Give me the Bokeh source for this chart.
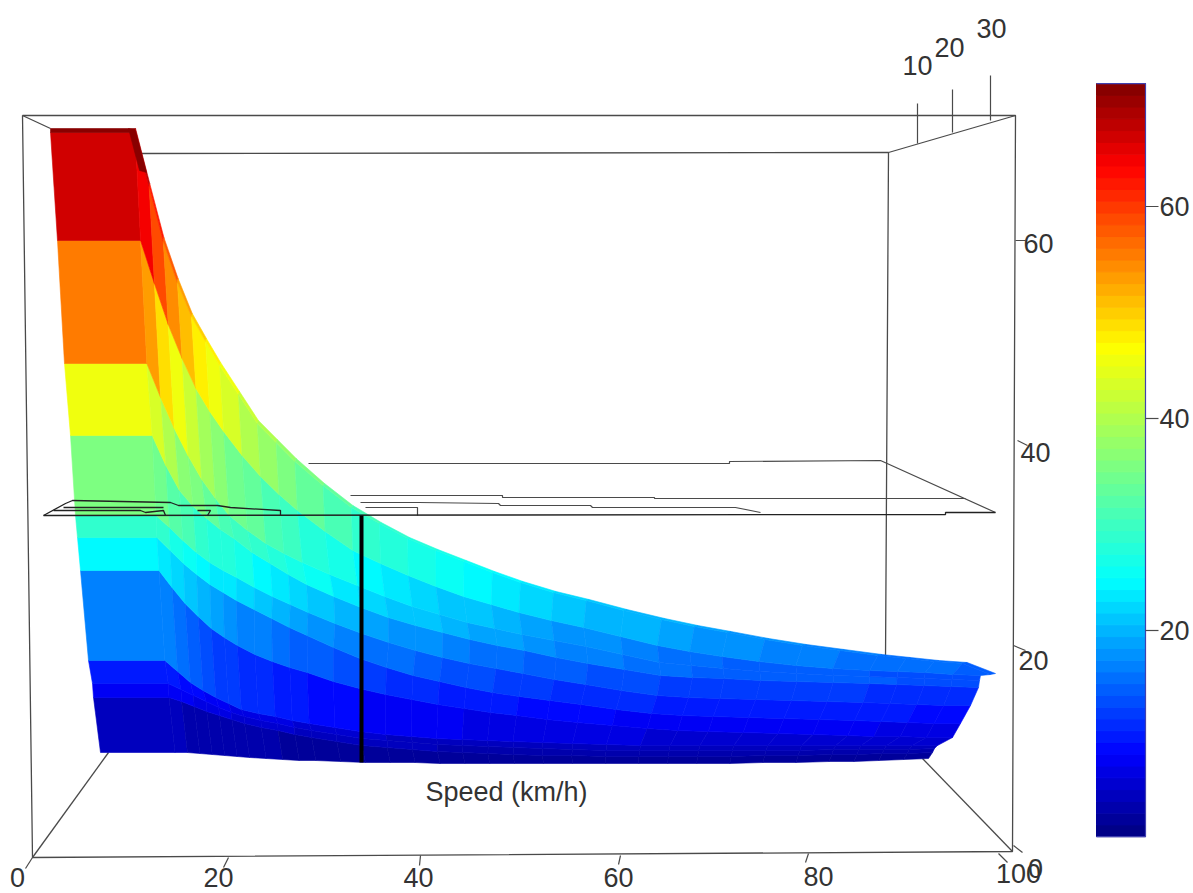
import numpy as np
from bokeh.core.properties import value
from bokeh.embed import file_html
from bokeh.models import Range1d
from bokeh.plotting import figure
from bokeh.resources import INLINE

# Speed grid of the surface columns (km/h)
speed_grid = [0, 9, 10.5, 12, 13.5, 15, 16.5, 18, 20, 22, 24, 26, 29, 32, 35, 38, 41, 44, 47, 50,
              53.5, 57, 61, 65, 68.5, 72, 76, 80, 84, 88, 91, 94, 97, 100]

# Projected force along each row boundary, front row first
b0 = [10.5, 10.5, 10.5, 10.4, 10.3, 10.2, 10.1, 10.0, 9.9, 9.8, 9.7, 9.7, 9.6, 9.5, 9.5, 9.5, 9.4, 9.4, 9.4, 9.4,
      9.4, 9.4, 9.4, 9.4, 9.4, 9.4, 9.4, 9.5, 9.5, 9.6, 9.6, 9.7, 9.8, 9.9]
b1 = [16.0, 16.0, 15.6, 15.1, 14.6, 14.2, 13.8, 13.4, 13.0, 12.7, 12.3, 12.0, 11.6, 11.2, 11.0, 10.8, 10.6, 10.5, 10.4, 10.3,
      10.2, 10.2, 10.1, 10.1, 10.1, 10.1, 10.1, 10.2, 10.2, 10.3, 10.3, 10.4, 10.4, 10.5]
b2 = [17.4, 17.4, 16.8, 16.2, 15.6, 15.0, 14.5, 14.1, 13.7, 13.4, 13.0, 12.7, 12.3, 11.9, 11.7, 11.5, 11.3, 11.2, 11.1, 11.0,
      10.9, 10.8, 10.7, 10.7, 10.7, 10.7, 10.7, 10.7, 10.7, 10.8, 10.8, 10.8, 10.8, 10.9]
b3 = [19.7, 19.7, 18.6, 17.5, 16.7, 16.0, 15.4, 14.8, 14.4, 14.1, 13.7, 13.4, 13.0, 12.6, 12.3, 12.1, 11.9, 11.8, 11.7, 11.6,
      11.5, 11.4, 11.3, 11.2, 11.2, 11.2, 11.2, 11.2, 11.2, 11.2, 11.2, 11.2, 11.2, 11.2]
b4 = [28.7, 28.7, 27.0, 25.4, 24.1, 22.9, 22.0, 21.2, 20.3, 19.6, 19.0, 18.5, 17.6, 16.9, 16.3, 15.8, 15.3, 14.9, 14.5, 14.2,
      13.8, 13.5, 13.2, 12.9, 12.7, 12.6, 12.5, 12.4, 12.3, 12.2, 12.1, 12.1, 12.0, 12.0]
b5 = [32.0, 32.0, 30.7, 29.4, 28.3, 27.3, 26.5, 25.7, 24.8, 23.9, 23.0, 22.2, 21.0, 19.9, 19.0, 18.2, 17.6, 17.0, 16.5, 16.1,
      15.7, 15.3, 14.8, 14.4, 14.2, 14.1, 14.0, 13.9, 13.8, 13.7, 13.6, 13.5, 13.4, 13.4]
b6 = [34.2, 34.2, 33.0, 31.7, 30.5, 29.5, 28.7, 28.0, 27.0, 26.1, 25.3, 24.5, 23.4, 22.4, 21.5, 20.7, 20.0, 19.4, 18.9, 18.4,
      17.8, 17.3, 16.7, 16.2, 16.0, 15.9, 15.8, 15.7, 15.6, 15.5, 15.4, 15.3, 15.2, 15.2]
b7 = [42.2, 42.2, 39.2, 36.7, 35.1, 33.9, 32.8, 31.9, 30.5, 29.4, 28.3, 27.3, 26.1, 25.0, 24.0, 23.2, 22.5, 21.8, 21.2, 20.7,
      20.0, 19.4, 18.8, 18.2, 18.0, 17.9, 17.7, 17.6, 17.5, 17.4, 17.3, 17.2, 17.1, 17.0]
b8 = [49.4, 49.4, 46.0, 42.9, 40.2, 37.8, 35.9, 34.2, 32.7, 31.4, 30.4, 29.5, 28.3, 27.2, 26.1, 25.1, 24.3, 23.5, 22.9, 22.3,
      21.7, 21.1, 20.3, 19.5, 19.2, 18.9, 18.6, 18.4, 18.2, 18.1, 18.0, 17.9, 17.8, 17.7]
b9 = [61.7, 61.7, 57.4, 53.3, 49.9, 46.9, 44.6, 42.6, 40.2, 38.1, 36.3, 34.7, 32.6, 30.7, 29.4, 28.2, 27.1, 26.1, 25.3, 24.5,
      23.7, 23.0, 22.1, 21.2, 20.6, 20.1, 19.6, 19.2, 18.9, 18.7, 18.6, 18.5, 18.3, 18.2]
b10 = [72.5, 72.5, 67.1, 61.6, 57.5, 54.1, 51.6, 49.2, 46.3, 43.4, 41.5, 39.6, 37.2, 35.0, 33.4, 31.9, 30.7, 29.6, 28.5, 27.5,
       26.5, 25.7, 24.7, 23.8, 23.1, 22.5, 21.8, 21.2, 20.7, 20.2, 19.9, 19.6, 19.4, 18.3]
b11 = [72.9, 72.9, 67.4, 62.0, 57.9, 54.4, 51.9, 49.5, 46.6, 43.7, 41.8, 39.9, 37.4, 35.2, 33.5, 32.0, 30.8, 29.7, 28.6, 27.6,
       26.6, 25.8, 24.8, 23.9, 23.2, 22.6, 21.9, 21.3, 20.8, 20.3, 20.0, 19.7, 19.5, 18.4]
boundaries = [b0, b1, b2, b3, b4, b5, b6, b7, b8, b9, b10, b11]

# Where speed 0 and speed 100 of each boundary fall on the horizontal scale
row_start = [7.0, 6.3, 6.2, 5.8, 5.0, 4.7, 4.5, 4.0, 3.4, 2.7, 2.0, 2.0]
row_end = [89.8, 90.2, 90.4, 90.7, 92.2, 93.0, 94.0, 94.8, 94.9, 95.0, 96.0, 96.5]

# Plateau force of every row and the projected floor of the row
row_force = [4, 8, 10, 17, 24, 29, 36, 45, 55, 67, 71]
row_floor = [6.7, 5.7, 5.7, 5.4, 5.4, 5.4, 6.0, 5.1, 5.9, 4.8, 4.8]

# Colour scale
scale_min, scale_max = 0.55, 71.6
JET_T = [0, 0.11, 0.34, 0.65, 0.89, 1]
JET_R = [0, 0, 0, 1, 1, 0.5]
JET_G = [0, 0, 1, 1, 0, 0]
JET_B = [0.5, 1, 1, 0, 0, 0]
N_LEVELS = 64


def jet(z):
    t = (np.clip(z, scale_min, scale_max) - scale_min) / (scale_max - scale_min)
    t = (np.floor(t * (N_LEVELS - 1e-6)) + 0.5) / N_LEVELS
    r = np.interp(t, JET_T, JET_R)
    g = np.interp(t, JET_T, JET_G)
    b = np.interp(t, JET_T, JET_B)
    return "#%02x%02x%02x" % (int(r * 255), int(g * 255), int(b * 255))


# Axis ticks and labels
speed_labels = ["0", "20", "40", "60", "80", "100"]
speed_label_x = [-1.3, 18.8, 38.8, 58.8, 78.8, 98.8]
speed_label_y = [-2.0, -2.0, -2.0, -2.0, -1.9, -1.6]
force_labels = ["0", "20", "40", "60"]
force_label_x = [100.5, 100.3, 100.5, 100.8]
force_label_y = [-1.1, 19.7, 40.5, 61.4]
depth_labels = ["10", "20", "30"]
depth_label_x = [88.7, 91.9, 96.1]
depth_label_y = [79.2, 81.0, 82.9]
colorbar_ticks = [20, 40, 60]

W, H = 1193, 893
p = figure(width=W, height=H, output_backend="svg", toolbar_location=None,
           x_range=Range1d(-3.0, 116.3), y_range=Range1d(-3.6, 85.7),
           min_border=0, min_border_left=0, min_border_right=0,
           min_border_top=0, min_border_bottom=0)
p.axis.visible = False
p.grid.visible = False
p.outline_line_color = None

BOX = "#4a4a4a"
rear_x = [[-0.8, 98.5, 98.2, 0.2, -0.8], [11, 85.8, 85.5], [85.8, 98.5], [-0.8, 2], [0.2, 7.8], [98.2, 89.2]]
rear_y = [[74.2, 74.2, 0.6, 0, 74.2], [70.4, 70.5, 19.7], [70.5, 74.2], [74.2, 72.9], [0, 10.5], [0.6, 9.9]]
p.multi_line(rear_x, rear_y, line_color=BOX, line_width=1.3)

tick_x = [[88.7, 88.7], [92.2, 92.2], [96, 96],
          [98.5, 99.5], [98.7, 99.7], [98.3, 99.5], [98.3, 99.2],
          [0.2, -0.5], [19.8, 19.3], [39, 38.9], [59, 58.8], [77.8, 77.5], [96.8, 97.7]]
tick_y = [[71.4, 75.4], [72.5, 76.8], [73.7, 78.2],
          [61.7, 61.7], [41.7, 41.2], [21.2, 20.7], [1.2, 0.5],
          [0, -1.1], [0, -1], [0.2, -0.8], [0.2, -0.7], [0.4, -0.5], [0.4, -0.5]]
p.multi_line(tick_x, tick_y, line_color=BOX, line_width=1.2)

# Plane behind the surface
plane_back_x = [[27.8, 69.9, 69.9, 85, 96.5],
                [32, 47.2, 47.2, 62.4, 62.4, 93.5],
                [33, 38.8, 46.8, 47, 56, 56.2, 70.5, 73],
                [33.5, 38.7, 38.7]]
plane_back_y = [[39.4, 39.4, 39.6, 39.7, 34.5],
                [36.2, 36.2, 36, 36, 35.9, 35.9],
                [35.5, 35.5, 35.4, 35.2, 35.2, 35, 35, 34.5],
                [35, 35, 34.2]]
p.multi_line(plane_back_x, plane_back_y, line_color=BOX, line_width=1.2)

# Surface facets
xs, ys, cols = [], [], []
s = np.array(speed_grid, dtype=float)
F = np.array(boundaries)
X = np.array([a + (b - a) * s / 100 for a, b in zip(row_start, row_end)])
for r in range(len(row_force)):
    h0 = F[r:r + 2, 0:2].mean() - row_floor[r]
    for j in range(len(speed_grid) - 1):
        h = F[r:r + 2, j:j + 2].mean() - row_floor[r]
        xs.append([X[r, j], X[r, j + 1], X[r + 1, j + 1], X[r + 1, j]])
        ys.append([F[r, j], F[r, j + 1], F[r + 1, j + 1], F[r + 1, j]])
        cols.append(jet(row_force[r] * h / h0))
p.patches(xs, ys, fill_color=cols, line_color=cols, line_width=0.6)

crest_x = [9.8, 10.5, 11.6, 10.9]
crest_y = [72.9, 72.7, 68.5, 68.7]
p.patch(crest_x, crest_y, fill_color=jet(71), line_color=jet(71), line_width=0.6)

# Plane in front of the surface
plane_front_x = [[1.3, 91.5, 91.5, 96.5],
                 [1.3, 3.5, 4.2, 14, 14.8, 18.7, 20, 25, 25],
                 [2.3, 11, 11.5, 13.3, 13.5],
                 [3.3, 13.3],
                 [16.7, 18, 17.7]]
plane_front_y = [[34.2, 34.3, 34.5, 34.5],
                 [34.2, 35.4, 35.7, 35.5, 35.2, 35.2, 35, 34.7, 34.2],
                 [34.7, 34.7, 34.5, 34.7, 34.2],
                 [35, 35],
                 [34.7, 34.7, 34.2]]
p.multi_line(plane_front_x, plane_front_y, line_color="#222222", line_width=1.3)
p.line([33.1, 33.1], [34.2, 9.5], line_color="black", line_width=4)

# Colour bar
levels = np.linspace(scale_min, scale_max, N_LEVELS + 1)
bar_y = 1.5 + 1.06 * levels
mids = (levels[:-1] + levels[1:]) / 2
p.quad(left=106.6, right=111.5, bottom=bar_y[:-1], top=bar_y[1:],
       fill_color=[jet(v) for v in mids], line_color=[jet(v) for v in mids], line_width=1)
p.line([106.6, 111.5, 111.5, 106.6], [bar_y[-1], bar_y[-1], bar_y[0], bar_y[0]],
       line_color="#4040b0", line_width=1.2)
bt = 1.5 + 1.06 * np.array(colorbar_ticks)
p.segment(x0=111.5, x1=112.8, y0=bt, y1=bt, line_color=BOX, line_width=1.2)

FONT = value("Liberation Sans")
COMMON = dict(text_font=FONT, text_font_size="27px", text_color="#333333", text_baseline="middle")
p.text(speed_label_x, speed_label_y, text=speed_labels, text_align="center", **COMMON)
p.text(force_label_x, force_label_y, text=force_labels, text_align="center", **COMMON)
p.text(depth_label_x, depth_label_y, text=depth_labels, text_align="center", **COMMON)
p.text([115.9] * 3, list(bt), text=[str(t) for t in colorbar_ticks], text_align="right", **COMMON)
p.text([47.6], [6.6], text=["Speed (km/h)"], text_align="center", **COMMON)

open("out.html", "w").write(file_html(p, INLINE))
